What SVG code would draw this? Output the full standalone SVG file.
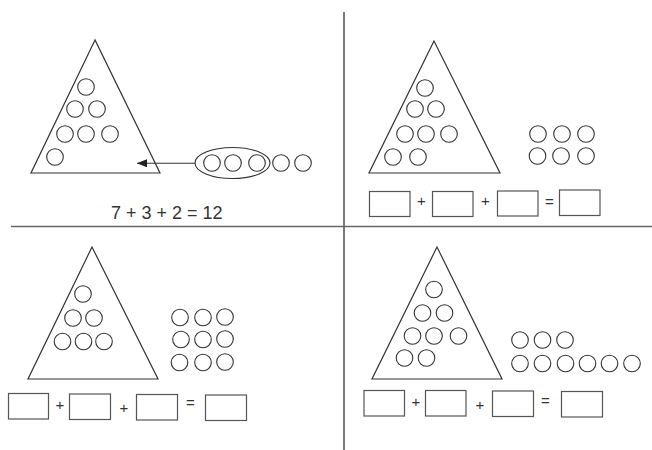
<svg xmlns="http://www.w3.org/2000/svg" width="652" height="450" viewBox="0 0 652 450">
<defs>
<style>
.tri{fill:none;stroke:#333;stroke-width:1.2}
.c{fill:none;stroke:#333;stroke-width:1.1}
.box{fill:#fff;stroke:#555;stroke-width:1.2}
.op{font-family:"Liberation Sans",Arial,sans-serif;font-size:15px;fill:#333;text-anchor:middle}
.eq{font-family:"Liberation Sans",Arial,sans-serif;font-size:18px;fill:#333}
</style>
<marker id="ah" viewBox="0 0 10 8" refX="10" refY="4" markerWidth="10" markerHeight="8" markerUnits="userSpaceOnUse" orient="auto">
<path d="M0,0 L10,4 L0,8 Z" fill="#222"/>
</marker>
</defs>
<rect width="652" height="450" fill="#fff"/>
<g id="dividers">
<line x1="344" y1="12" x2="344" y2="450" stroke="#333" stroke-width="1.3"/>
<line x1="11" y1="226.5" x2="652" y2="226.5" stroke="#666" stroke-width="1.3"/>
</g>
<g id="q1">
<polygon class="tri" points="95,40 31,173 160,173"/>
<circle class="c" cx="86" cy="87" r="8.3"/>
<circle class="c" cx="75" cy="109" r="8.3"/>
<circle class="c" cx="97" cy="109" r="8.3"/>
<circle class="c" cx="65" cy="134" r="8.3"/>
<circle class="c" cx="86" cy="134" r="8.3"/>
<circle class="c" cx="110" cy="134" r="8.3"/>
<circle class="c" cx="55" cy="157" r="8.3"/>
<ellipse class="c" cx="232.5" cy="163" rx="37.5" ry="15.5"/>
<circle class="c" cx="212" cy="163" r="8.3"/>
<circle class="c" cx="233" cy="163" r="8.3"/>
<circle class="c" cx="257" cy="163" r="8.3"/>
<circle class="c" cx="281" cy="163" r="8.3"/>
<circle class="c" cx="303" cy="163" r="8.3"/>
<text class="eq" x="111" y="218.5">7 + 3 + 2 = 12</text>
</g>
<g id="connectors">
<line x1="195" y1="163.3" x2="137" y2="163.3" stroke="#333" stroke-width="1.1" marker-end="url(#ah)"/>
</g>
<g id="q2">
<polygon class="tri" points="434,41 369,173 500,173"/>
<circle class="c" cx="425" cy="88" r="8.3"/>
<circle class="c" cx="415" cy="109" r="8.3"/>
<circle class="c" cx="436" cy="109" r="8.3"/>
<circle class="c" cx="405" cy="134" r="8.3"/>
<circle class="c" cx="426" cy="134" r="8.3"/>
<circle class="c" cx="449" cy="134" r="8.3"/>
<circle class="c" cx="393" cy="157" r="8.3"/>
<circle class="c" cx="418" cy="157" r="8.3"/>
<circle class="c" cx="538" cy="134" r="8.3"/>
<circle class="c" cx="562" cy="134" r="8.3"/>
<circle class="c" cx="586" cy="134" r="8.3"/>
<circle class="c" cx="537.5" cy="156" r="8.3"/>
<circle class="c" cx="561" cy="156" r="8.3"/>
<circle class="c" cx="586" cy="156" r="8.3"/>
<rect class="box" x="369.5" y="191.5" width="40.5" height="25"/>
<rect class="box" x="432.5" y="191.5" width="40.5" height="25"/>
<rect class="box" x="497.5" y="191" width="40.5" height="25"/>
<rect class="box" x="559.5" y="190" width="40.5" height="25.5"/>
<text class="op" x="421.5" y="206">+</text>
<text class="op" x="485.5" y="206">+</text>
<text class="op" x="549.5" y="206.5">=</text>
</g>
<g id="q3">
<polygon class="tri" points="92,247 28,379 158,379"/>
<circle class="c" cx="83" cy="294" r="8.3"/>
<circle class="c" cx="73" cy="318" r="8.3"/>
<circle class="c" cx="94" cy="318" r="8.3"/>
<circle class="c" cx="62.5" cy="341.5" r="8.3"/>
<circle class="c" cx="83.5" cy="341.5" r="8.3"/>
<circle class="c" cx="104" cy="341.5" r="8.3"/>
<circle class="c" cx="180" cy="317.5" r="8.3"/>
<circle class="c" cx="203" cy="317.5" r="8.3"/>
<circle class="c" cx="225" cy="317" r="8.3"/>
<circle class="c" cx="181" cy="339.5" r="8.3"/>
<circle class="c" cx="203" cy="339.5" r="8.3"/>
<circle class="c" cx="225" cy="339" r="8.3"/>
<circle class="c" cx="179.5" cy="362.5" r="8.3"/>
<circle class="c" cx="203" cy="362.5" r="8.3"/>
<circle class="c" cx="225" cy="362" r="8.3"/>
<rect class="box" x="8.5" y="393.5" width="40" height="25.5"/>
<rect class="box" x="69.5" y="394" width="41" height="25.5"/>
<rect class="box" x="136.5" y="394.5" width="41" height="25.5"/>
<rect class="box" x="205.5" y="395" width="41" height="25.5"/>
<text class="op" x="60" y="409.5">+</text>
<text class="op" x="124" y="413">+</text>
<text class="op" x="190.5" y="408">=</text>
</g>
<g id="q4">
<polygon class="tri" points="437,247 372,379 502,379"/>
<circle class="c" cx="434" cy="289.5" r="8.3"/>
<circle class="c" cx="422.5" cy="313" r="8.3"/>
<circle class="c" cx="444.5" cy="313" r="8.3"/>
<circle class="c" cx="412.5" cy="336" r="8.3"/>
<circle class="c" cx="434" cy="336" r="8.3"/>
<circle class="c" cx="458.5" cy="336" r="8.3"/>
<circle class="c" cx="404.5" cy="358" r="8.3"/>
<circle class="c" cx="426.5" cy="358" r="8.3"/>
<circle class="c" cx="520" cy="340" r="8.3"/>
<circle class="c" cx="542.5" cy="340" r="8.3"/>
<circle class="c" cx="565" cy="340" r="8.3"/>
<circle class="c" cx="520" cy="363.5" r="8.3"/>
<circle class="c" cx="542.5" cy="363.5" r="8.3"/>
<circle class="c" cx="565.5" cy="363.5" r="8.3"/>
<circle class="c" cx="587.5" cy="363.5" r="8.3"/>
<circle class="c" cx="609.5" cy="363.5" r="8.3"/>
<circle class="c" cx="632" cy="363.5" r="8.3"/>
<rect class="box" x="364" y="390.5" width="40.5" height="25.5"/>
<rect class="box" x="425.5" y="390.5" width="40.5" height="25.5"/>
<rect class="box" x="492.5" y="391" width="41" height="25.5"/>
<rect class="box" x="561.5" y="391.5" width="41" height="25.5"/>
<text class="op" x="416" y="407">+</text>
<text class="op" x="480" y="410">+</text>
<text class="op" x="545.5" y="405.5">=</text>
</g>
</svg>
